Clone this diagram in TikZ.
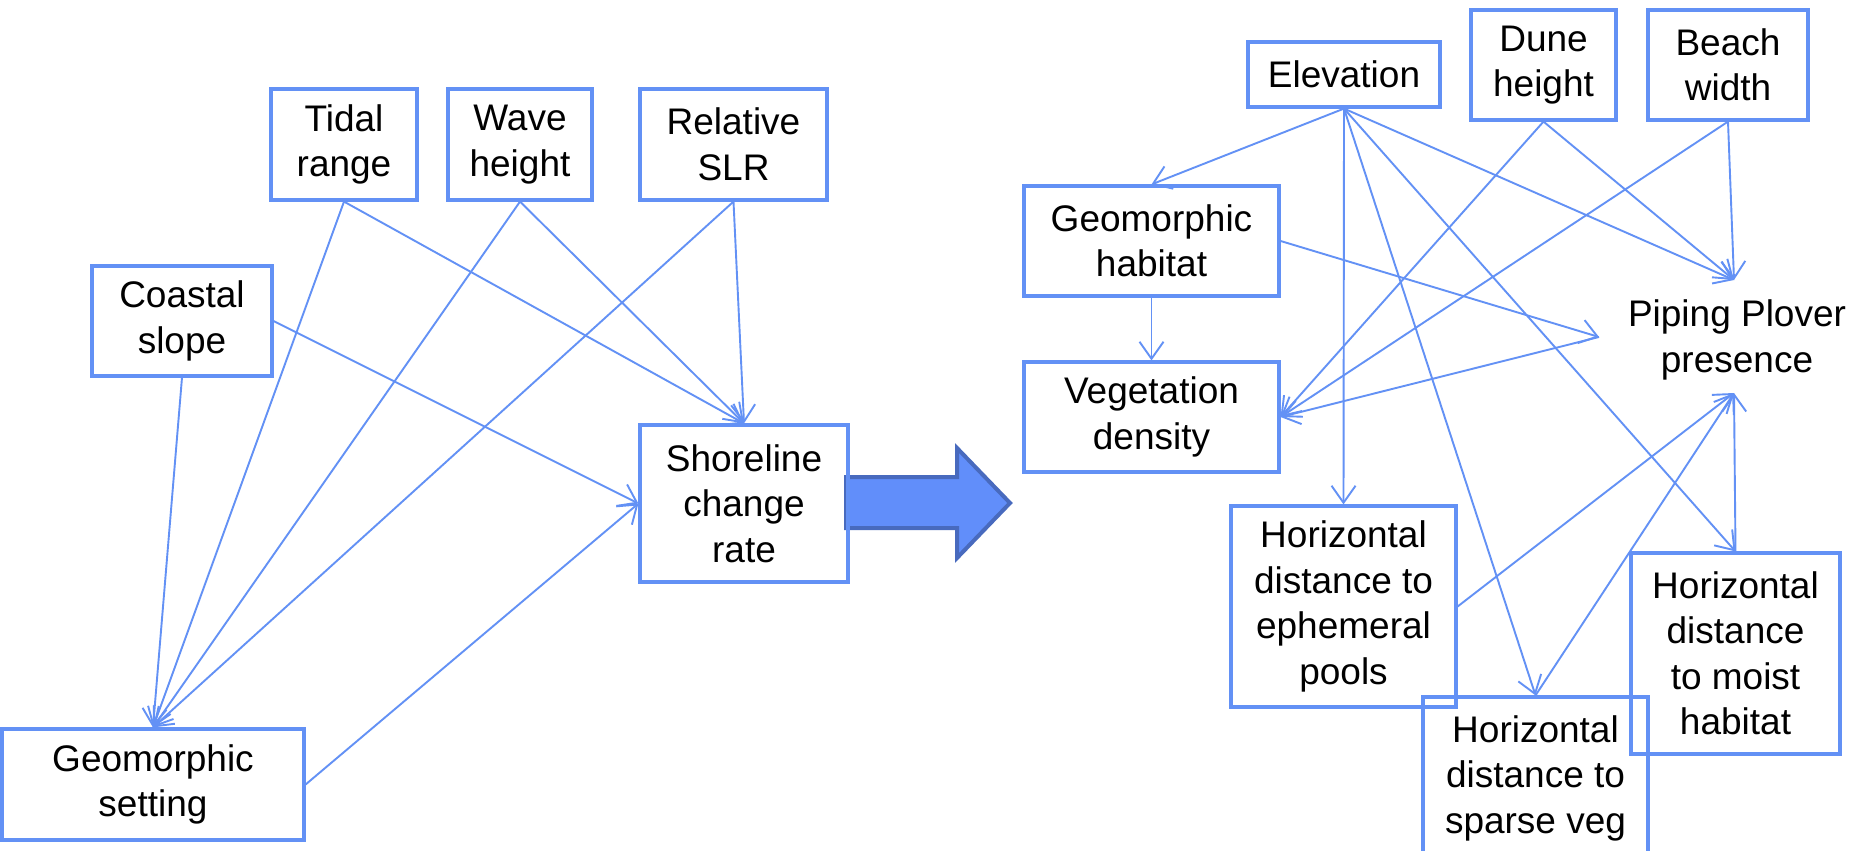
\documentclass[tikz,border=0pt]{standalone}
\usepackage{fontspec}
\setmainfont{Liberation Sans}
\usetikzlibrary{arrows.meta}
\definecolor{bcol}{RGB}{99,145,245}
\definecolor{afill}{RGB}{97,142,250}
\definecolor{aedge}{RGB}{72,106,190}
\begin{document}
\begin{tikzpicture}[x=1pt,y=-1pt,
  bx/.style={draw=bcol, line width=3.2pt, align=center, inner sep=0pt,
    font=\fontsize{37pt}{45.5pt}\selectfont},
  lnk/.style={draw=bcol, line width=1.9pt, -{Straight Barb[length=17pt,width=24pt,line width=1.9pt]}}]
\useasboundingbox (0,0) rectangle (1866,851);
\fill[white] (0,0) rectangle (1866,851);
% big arrow
\draw[fill=afill, draw=aedge, line width=4pt, line join=miter]
  (846,477) -- (957,477) -- (957,448) -- (1010,503) -- (957,558) -- (957,528) -- (846,528) -- cycle;
% left nodes
\node[bx, minimum width=146pt, minimum height=111pt] (tidal) at (344,144.5) {Tidal\\range};
\node[bx, minimum width=144pt, minimum height=111pt] (wave) at (520,144.5) {Wave\\height};
\node[bx, minimum width=187pt, minimum height=111pt] (slr) at (733.5,144.5) {Relative\\SLR};
\node[bx, minimum width=180pt, minimum height=110pt] (coastal) at (182,321) {Coastal\\slope};
\node[bx, minimum width=208pt, minimum height=157pt] (shore) at (744,503.5) {Shoreline\\change\\rate};
\node[bx, minimum width=302pt, minimum height=111pt] (geoset) at (153,784.5) {Geomorphic\\setting};
% right nodes
\node[bx, minimum width=192pt, minimum height=65pt] (elev) at (1344,74.5) {Elevation};
\node[bx, minimum width=145pt, minimum height=110pt] (dune) at (1543.5,65) {Dune\\height};
\node[bx, minimum width=160pt, minimum height=110pt] (beach) at (1728,65) {Beach\\width};
\node[bx, minimum width=255pt, minimum height=110pt] (geohab) at (1151.5,241) {Geomorphic\\habitat};
\node[bx, minimum width=255pt, minimum height=110pt] (veg) at (1151.5,417) {Vegetation\\density};
\node[bx, draw=none] (plover) at (1737,340) {Piping Plover\\presence};
\coordinate (plW) at (1599,337);
\coordinate (plN) at (1734,280);
\coordinate (plS) at (1734,393);
\node[bx, minimum width=225pt, minimum height=201pt] (ephem) at (1343.5,606.5) {Horizontal\\distance to\\ephemeral\\pools};
\node[bx, minimum width=225pt, minimum height=162pt] (sparse) at (1535.5,778) {Horizontal\\distance to\\sparse veg};
\node[bx, minimum width=209pt, minimum height=201pt] (moist) at (1735.5,653.5) {Horizontal\\distance\\to moist\\habitat};
% left links
\draw[lnk] (tidal.south) -- (shore.north);
\draw[lnk] (wave.south) -- (shore.north);
\draw[lnk] (slr.south) -- (shore.north);
\draw[lnk] (tidal.south) -- (geoset.north);
\draw[lnk] (wave.south) -- (geoset.north);
\draw[lnk] (slr.south) -- (geoset.north);
\draw[lnk] (coastal.south) -- (geoset.north);
\draw[lnk] (coastal.east) -- (shore.west);
\draw[lnk] (geoset.east) -- (shore.west);
% right links
\draw[lnk] (elev.south) -- (geohab.north);
\draw[lnk] (elev.south) -- (ephem.north);
\draw[lnk] (elev.south) -- (sparse.north);
\draw[lnk] (elev.south) -- (moist.north);
\draw[lnk] (elev.south) -- (plN);
\draw[lnk] (dune.south) -- (plN);
\draw[lnk] (dune.south) -- (veg.east);
\draw[lnk] (beach.south) -- (plN);
\draw[lnk] (beach.south) -- (veg.east);
\draw[lnk] (geohab.south) -- (veg.north);
\draw[lnk] (geohab.east) -- (plW);
\draw[lnk] (plW) -- (veg.east);
\draw[lnk] (ephem.east) -- (plS);
\draw[lnk] (sparse.north) -- (plS);
\draw[lnk] (moist.north) -- (plS);
\end{tikzpicture}
\end{document}
